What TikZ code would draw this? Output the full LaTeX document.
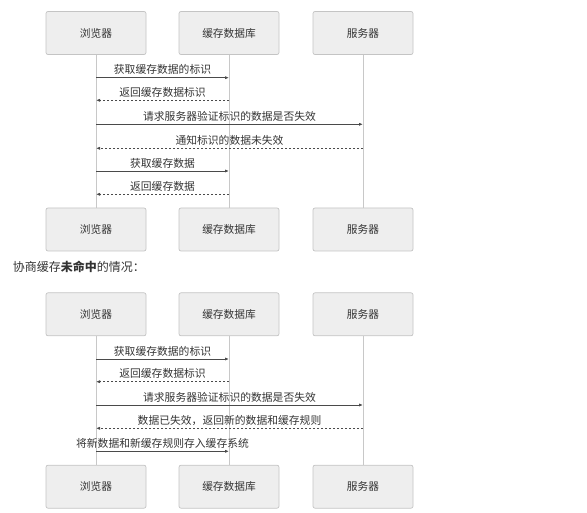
\documentclass[tikz,border=0pt]{standalone}
\usepackage{fontspec}
\setmainfont{Noto Sans CJK SC}
\usetikzlibrary{arrows.meta}
\definecolor{txt}{HTML}{333333}
\definecolor{boxfill}{HTML}{EEEEEE}
\definecolor{boxline}{HTML}{C4C4C4}
\definecolor{life}{HTML}{C8C8C8}
\definecolor{msgc}{HTML}{4A4A4A}
\tikzset{
  actor/.style={draw=boxline, fill=boxfill, rounded corners=2pt, minimum width=100pt, minimum height=43pt, inner sep=0pt, text=txt, font=\fontsize{10.7}{12}\selectfont, line width=0.7pt},
  lifeline/.style={draw=life, line width=0.8pt},
  callmsg/.style={draw=msgc, line width=0.8pt, -{Latex[length=4pt,width=3.2pt]}},
  retmsg/.style={draw=msgc, line width=0.8pt, dash pattern=on 2pt off 2pt, -{Latex[length=4pt,width=3.2pt]}},
  lbl/.style={text=txt, font=\fontsize{10.8}{12}\selectfont, inner sep=0pt, yshift=8pt}
}
\begin{document}
\begin{tikzpicture}[x=1pt,y=-1pt]
\useasboundingbox (0,0) rectangle (587,513);
% ---------- first diagram ----------
\node[actor] (b1t) at (96,33) {浏览器};
\node[actor] (c1t) at (229,33) {缓存数据库};
\node[actor] (s1t) at (363,33) {服务器};
\node[actor] (b1b) at (96,229.5) {浏览器};
\node[actor] (c1b) at (229,229.5) {缓存数据库};
\node[actor] (s1b) at (363,229.5) {服务器};
\draw[lifeline] (b1t.south) -- (b1b.north);
\draw[lifeline] (c1t.south) -- (c1b.north);
\draw[lifeline] (s1t.south) -- (s1b.north);
% message anchors
\coordinate (m1a) at (96,77.7);  \coordinate (m1b) at (229,77.7);
\coordinate (m2a) at (229,100.3); \coordinate (m2b) at (96,100.3);
\coordinate (m3a) at (96,124.3); \coordinate (m3b) at (363,124.3);
\coordinate (m4a) at (363,148.3); \coordinate (m4b) at (96,148.3);
\coordinate (m5a) at (96,171);   \coordinate (m5b) at (229,171);
\coordinate (m6a) at (229,194.3); \coordinate (m6b) at (96,194.3);
\draw[callmsg] (m1a) -- (m1b) node[midway, lbl] {获取缓存数据的标识};
\draw[retmsg]  (m2a) -- (m2b) node[midway, lbl] {返回缓存数据标识};
\draw[callmsg] (m3a) -- (m3b) node[midway, lbl] {请求服务器验证标识的数据是否失效};
\draw[retmsg]  (m4a) -- (m4b) node[midway, lbl] {通知标识的数据未失效};
\draw[callmsg] (m5a) -- (m5b) node[midway, lbl] {获取缓存数据};
\draw[retmsg]  (m6a) -- (m6b) node[midway, lbl] {返回缓存数据};
% ---------- title ----------
\node[anchor=west, text=txt, inner sep=0pt, font=\fontsize{12}{14}\selectfont] (title) at (12.7,266.7) {协商缓存\textbf{未命中}的情况：};
% ---------- second diagram ----------
\node[actor] (b2t) at (96,314.3) {浏览器};
\node[actor] (c2t) at (229,314.3) {缓存数据库};
\node[actor] (s2t) at (363,314.3) {服务器};
\node[actor] (b2b) at (96,486.7) {浏览器};
\node[actor] (c2b) at (229,486.7) {缓存数据库};
\node[actor] (s2b) at (363,486.7) {服务器};
\draw[lifeline] (b2t.south) -- (b2b.north);
\draw[lifeline] (c2t.south) -- (c2b.north);
\draw[lifeline] (s2t.south) -- (s2b.north);
\coordinate (n1a) at (96,359);   \coordinate (n1b) at (229,359);
\coordinate (n2a) at (229,381.7); \coordinate (n2b) at (96,381.7);
\coordinate (n3a) at (96,405);   \coordinate (n3b) at (363,405);
\coordinate (n4a) at (363,428.3); \coordinate (n4b) at (96,428.3);
\coordinate (n5a) at (96,451.3); \coordinate (n5b) at (229,451.3);
\draw[callmsg] (n1a) -- (n1b) node[midway, lbl] {获取缓存数据的标识};
\draw[retmsg]  (n2a) -- (n2b) node[midway, lbl] {返回缓存数据标识};
\draw[callmsg] (n3a) -- (n3b) node[midway, lbl] {请求服务器验证标识的数据是否失效};
\draw[retmsg]  (n4a) -- (n4b) node[midway, lbl] {数据已失效，返回新的数据和缓存规则};
\draw[callmsg] (n5a) -- (n5b) node[midway, lbl] {将新数据和新缓存规则存入缓存系统};
\end{tikzpicture}
\end{document}
